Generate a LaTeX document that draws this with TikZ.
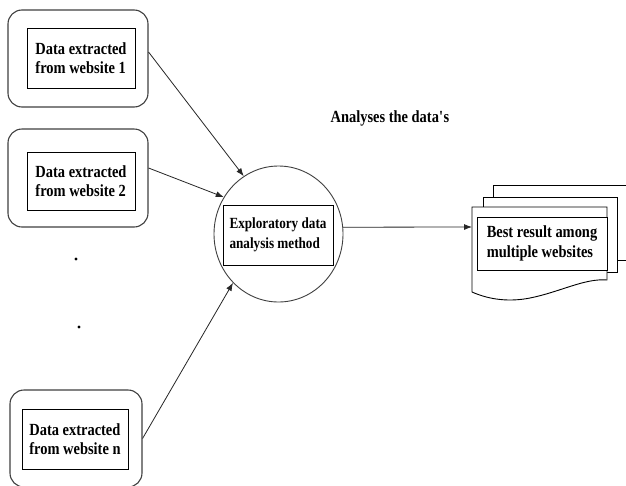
\documentclass[tikz,border=0pt]{standalone}
\usepackage{fontspec}
\setmainfont{Liberation Serif}[FakeStretch=0.85]
\usetikzlibrary{shapes.geometric,arrows.meta}
\tikzset{
  outerbox/.style={draw=black!75, line width=1.1pt, rounded corners=14pt, fill=white, inner sep=0pt},
  innerbox/.style={draw=black, line width=0.9pt, fill=white, inner sep=0pt, align=left,
    font=\fontsize{17}{19.5}\selectfont\bfseries},
  pagebox/.style={draw=black, line width=0.9pt, fill=white},
  flow/.style={draw=black!85, line width=0.8pt, -{Latex[length=8pt,width=6pt]}},
  dotmark/.style={circle, fill=black, inner sep=0pt, minimum size=3.2pt}
}
\begin{document}
\begin{tikzpicture}[x=1pt,y=-1pt]
\useasboundingbox[fill=white] (0,0) rectangle (626,485);

% source boxes
\node[outerbox, minimum width=140pt, minimum height=97pt] (o1) at (78,58.5) {};
\node[innerbox, minimum width=108pt, minimum height=60pt] (s1) at (81,58) {Data extracted\\from website 1};

\node[outerbox, minimum width=140pt, minimum height=98pt] (o2) at (78,178) {};
\node[innerbox, minimum width=108pt, minimum height=58pt] (s2) at (81,181) {Data extracted\\from website 2};

\node[outerbox, minimum width=132pt, minimum height=97pt] (on) at (76,438.5) {};
\node[innerbox, minimum width=106pt, minimum height=60pt] (sn) at (75,439) {Data extracted\\from website n};

% ellipsis dots
\node[dotmark] (d1) at (76,259) {};
\node[dotmark] (d2) at (79,327) {};

% analysis step
\node[ellipse, draw=black!75, line width=0.9pt, minimum width=129pt, minimum height=136pt, inner sep=0pt] (circ) at (278.5,234) {};
\node[innerbox, minimum width=110pt, minimum height=60pt, font=\fontsize{15.5}{20}\selectfont\bfseries] (ana) at (278,235) {Exploratory data\\analysis method};

\node[font=\fontsize{17}{19.5}\selectfont\bfseries] (lbl) at (390,118) {Analyses the data\textquotesingle s};

% stacked result documents
\draw[pagebox] (493,185) rectangle (632,260);
\draw[pagebox] (483,197) rectangle (617,272);
\draw[pagebox] (472,207) -- (607,207) -- (607,280)
  .. controls (585,278) and (560,292) .. (530,298)
  .. controls (510,302) and (490,300) .. (472,292) -- cycle;
\node[innerbox, minimum width=130pt, minimum height=53pt] (res) at (542,243.5) {Best result among\\multiple websites};
\coordinate (docin) at (472,227);

% connectors
\draw[flow] ([yshift=6.5pt]o1.east) -- (circ.121);
\draw[flow] ([yshift=10pt]o2.east) -- (circ.146);
\draw[flow] (on.east) -- (circ.227);
\draw[flow] (circ.6) -- (docin);
\end{tikzpicture}
\end{document}
